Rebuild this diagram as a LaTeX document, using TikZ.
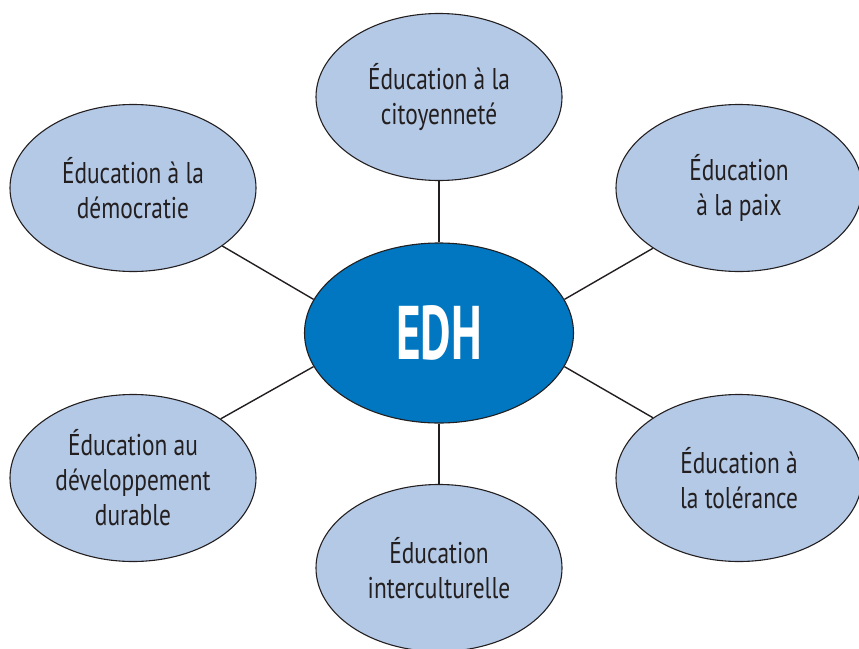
\documentclass[tikz,border=0pt]{standalone}
\usepackage{fontspec}
\setmainfont{PT Sans}[FakeStretch=0.78]
\newfontfamily\hubfont{PT Sans}[FakeStretch=0.62]
\usetikzlibrary{shapes.geometric}
\definecolor{themefill}{HTML}{B4C9E6}
\definecolor{hubfill}{HTML}{0077C0}
\definecolor{rimcolor}{HTML}{231F20}
\tikzset{
  theme/.style={ellipse, draw=rimcolor, line width=1.1pt, fill=themefill,
    minimum width=246pt, minimum height=167pt, inner sep=0pt, align=center,
    font=\fontsize{30}{35}\selectfont, text=rimcolor},
  hub/.style={ellipse, draw=rimcolor, line width=1.1pt, fill=hubfill,
    minimum width=269pt, minimum height=180pt, inner sep=0pt,
    font=\hubfont\bfseries\fontsize{76}{78}\selectfont, text=white},
  spoke/.style={line width=1.4pt, draw=rimcolor}
}
\begin{document}
\begin{tikzpicture}[x=1pt, y=-1pt]
  \useasboundingbox (0,0) rectangle (859,648);
  \node[hub] (edh) at (439,333) {EDH};
  \node[theme] (citoyennete) at (439,97) {Éducation à la\\citoyenneté};
  \node[theme] (democratie) at (133,188) {Éducation à la\\démocratie};
  \node[theme] (paix) at (739,188) {Éducation\\à la paix};
  \node[theme] (durable) at (133,478) {Éducation au\\développement\\durable};
  \node[theme] (interculturelle) at (439,568) {Éducation\\interculturelle};
  \node[theme] (tolerance) at (739,478) {Éducation à\\la tolérance};
  % spokes
  \draw[spoke] (edh.north) -- (citoyennete.south);
  \draw[spoke] (edh.south) -- (interculturelle.north);
  \draw[spoke] (edh.165) -- (democratie.-33);
  \draw[spoke] (edh.195) -- (durable.34);
  \draw[spoke] (edh.15) -- (paix.215);
  \draw[spoke] (edh.-15) -- (tolerance.145);
\end{tikzpicture}
\end{document}
